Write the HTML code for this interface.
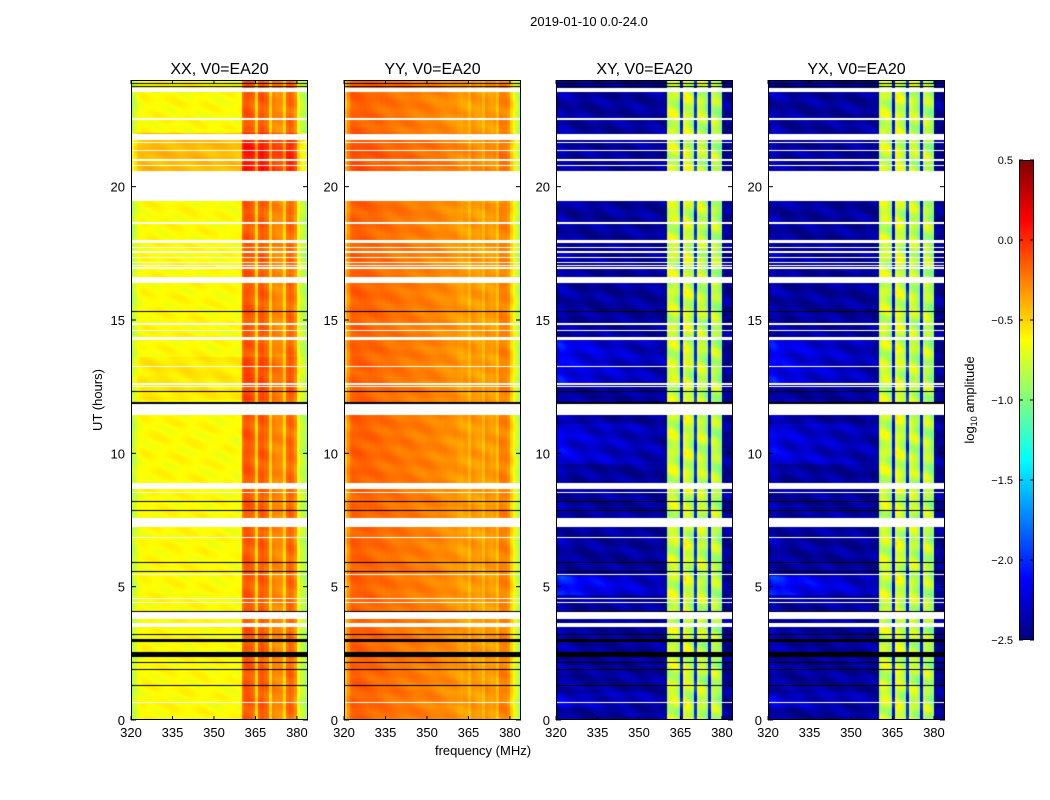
<!DOCTYPE html>
<html><head><meta charset="utf-8"><style>
body{margin:0;background:#fff;}
#wrap{position:relative;width:1050px;height:800px;overflow:hidden;background:#fff;font-family:"Liberation Sans",sans-serif;}
canvas{position:absolute;}
svg{position:absolute;left:0;top:0;}
</style></head><body>
<div id="wrap">
<canvas id="c0" width="177" height="640" style="left:131px;top:80px"></canvas>
<canvas id="c1" width="177" height="640" style="left:344px;top:80px"></canvas>
<canvas id="c2" width="177" height="640" style="left:556px;top:80px"></canvas>
<canvas id="c3" width="177" height="640" style="left:768px;top:80px"></canvas>
<canvas id="cb" width="15" height="480" style="left:1019px;top:160px"></canvas>
<svg id="ov" width="1050" height="800"></svg>
</div>
<script>
// ---- data ----
const panelTitles = ["XX, V0=EA20","YY, V0=EA20","XY, V0=EA20","YX, V0=EA20"];
const xTicks = [320,335,350,365,380];
const yTicks = [0,5,10,15,20];
const cbTicks = [0.5,0.0,-0.5,-1.0,-1.5,-2.0,-2.5];
// per-channel log10 amplitude, channels 320..383 MHz (1 MHz each)
const xxProfile = [-0.85,-0.75,-0.66,-0.64,-0.62,-0.62,-0.62,-0.62,-0.62,-0.62,-0.62,-0.62,-0.62,-0.62,-0.62,-0.62,-0.62,-0.62,-0.62,-0.62,-0.62,-0.62,-0.62,-0.62,-0.62,-0.62,-0.62,-0.62,-0.63,-0.63,-0.63,-0.63,-0.63,-0.63,-0.63,-0.63,-0.63,-0.64,-0.64,-0.64,-0.2,-0.12,-0.12,-0.15,-0.2,-0.5,-0.15,-0.12,-0.18,-0.2,-0.5,-0.25,-0.28,-0.28,-0.3,-0.5,-0.2,-0.15,-0.2,-0.3,-0.68,-0.78,-0.82,-0.88];
const yyProfile = [-0.45,-0.3,-0.18,-0.15,-0.15,-0.15,-0.16,-0.16,-0.17,-0.17,-0.18,-0.18,-0.19,-0.19,-0.2,-0.2,-0.21,-0.21,-0.21,-0.22,-0.22,-0.22,-0.23,-0.23,-0.23,-0.24,-0.24,-0.24,-0.25,-0.25,-0.25,-0.26,-0.26,-0.27,-0.27,-0.28,-0.28,-0.29,-0.3,-0.3,-0.3,-0.33,-0.35,-0.33,-0.33,-0.42,-0.3,-0.33,-0.35,-0.33,-0.42,-0.3,-0.33,-0.35,-0.33,-0.42,-0.25,-0.25,-0.25,-0.3,-0.5,-0.62,-0.75,-0.85];
const xyProfile = [-2.4,-2.35,-2.35,-2.38,-2.4,-2.4,-2.42,-2.42,-2.42,-2.42,-2.42,-2.42,-2.42,-2.42,-2.42,-2.42,-2.42,-2.42,-2.42,-2.42,-2.42,-2.42,-2.42,-2.42,-2.42,-2.42,-2.42,-2.42,-2.42,-2.42,-2.42,-2.42,-2.42,-2.42,-2.42,-2.42,-2.42,-2.42,-2.42,-2.42,-0.85,-0.75,-0.75,-0.8,-0.9,-2.1,-0.7,-0.75,-0.8,-0.9,-2.0,-0.75,-0.8,-0.8,-0.9,-2.1,-0.8,-0.8,-0.85,-0.95,-2.45,-2.45,-2.45,-2.45];
const yxProfile = xyProfile;
// time offsets [startHour, endHour, addedLog10]
const xxOffsets = [[20.5,22.0,0.2],[12.0,13.6,0.06]];
const yyOffsets = [[20.5,22.0,0.05]];
const xyOffsets = [[4.7,5.4,0.35],[9.6,11.1,0.2],[12.6,14.3,0.25],[0.5,1.0,0.15]];
const yxOffsets = xyOffsets;
// flagged (white) time ranges in hours
const flagRanges = [[23.55,23.7],[22.5,22.56],[21.75,21.97],[21.64,21.69],[21.35,21.39],[20.98,21.02],[20.78,20.82],[19.46,20.6],[18.85,18.88],[18.65,18.69],[18.61,18.64],[17.9,18.0],[17.71,17.75],[17.53,17.57],[17.34,17.38],[17.15,17.19],[17.04,17.08],[16.93,16.97],[16.4,16.6],[15.66,15.69],[15.55,15.58],[15.48,15.5],[14.83,14.87],[14.6,14.64],[14.25,14.36],[13.22,13.26],[12.58,12.62],[12.5,12.54],[11.44,11.85],[8.66,8.9],[8.5,8.54],[7.24,7.57],[6.84,6.88],[5.42,5.46],[4.52,4.56],[4.37,4.41],[3.79,4.05],[3.49,3.64],[0.62,0.66]];
// black (zero-valued) time lines in hours
const blackLines = [[23.86,23.9],[23.72,23.76],[22.9,22.93],[22.75,22.78],[21.96,21.99],[20.46,20.49],[19.45,19.48],[16.26,16.29],[15.77,15.8],[15.29,15.32],[13.86,13.89],[13.45,13.48],[12.66,12.69],[12.29,12.32],[11.85,11.93],[11.42,11.45],[8.18,8.23],[7.83,7.86],[6.1,6.13],[5.89,5.92],[5.55,5.6],[4.05,4.08],[3.18,3.21],[2.94,3.02],[2.36,2.55],[2.13,2.16],[1.89,1.92],[1.71,1.74],[1.27,1.3],[0.81,0.84],[0.25,0.28]];

// ---- geometry / scales ----
const panelLeft = [131,344,556,768];
const plotTop = 80, plotH = 640, plotW = 177;
const fMin = 320, fMax = 384, hMin = 0, hMax = 24;
const xScale = (f) => (f - fMin) / (fMax - fMin) * plotW;
const yScale = (h) => plotH - (h - hMin) / (hMax - hMin) * plotH;
const vMin = -2.5, vMax = 0.5;

function jet(v){
  let t = (v - vMin) / (vMax - vMin); t = Math.max(0, Math.min(1, t));
  const c = x => Math.max(0, Math.min(1, x));
  return [c(1.5-Math.abs(4*t-3))*255, c(1.5-Math.abs(4*t-2))*255, c(1.5-Math.abs(4*t-1))*255];
}
function inRanges(h, arr){ for (const r of arr) if (h>=r[0] && h<=r[1]) return true; return false; }
function offsetAt(h, arr){ let o=0; for (const r of arr) if (h>=r[0] && h<=r[1]) o+=r[2]; return o; }

const profiles = [xxProfile, yyProfile, xyProfile, yxProfile];
const offsets = [xxOffsets, yyOffsets, xyOffsets, yxOffsets];
profiles.forEach((prof, p) => {
  const cv = document.getElementById('c'+p);
  const ctx = cv.getContext('2d');
  const img = ctx.createImageData(plotW, plotH);
  for (let py=0; py<plotH; py++){
    const h = hMax - (py+0.5)/plotH*(hMax-hMin);
    const flag = inRanges(h, flagRanges), blk = inRanges(h, blackLines);
    const off = offsetAt(h, offsets[p]);
    for (let px=0; px<plotW; px++){
      const i = (py*plotW+px)*4;
      const f = fMin + (px+0.5)/plotW*(fMax-fMin);
      const ch = Math.min(prof.length-1, Math.floor(f-fMin));
      let rgb;
      if (flag) rgb=[255,255,255];
      else if (blk) rgb=[0,0,0];
      else {
        let v = prof[ch] + ((p>=2 && ch<40) ? off*(1-(f-fMin)/50) : (p<2 ? off : 0));
        // cosmetic texture
        const amp = p>=2 ? (ch<40 ? 0.12 : 0.15) : 0.05;
        v += amp*Math.sin(h*7.3+f*0.37)*Math.cos(h*2.1-f*0.21);
        rgb = jet(v);
      }
      img.data[i]=rgb[0]; img.data[i+1]=rgb[1]; img.data[i+2]=rgb[2]; img.data[i+3]=255;
    }
  }
  ctx.putImageData(img,0,0);
});
// colorbar
(function(){
  const cv=document.getElementById('cb'), ctx=cv.getContext('2d');
  for (let y=0;y<480;y++){ const v=vMax-(y+0.5)/480*(vMax-vMin); const c=jet(v);
    ctx.fillStyle=`rgb(${c[0]|0},${c[1]|0},${c[2]|0})`; ctx.fillRect(0,y,15,1);}
})();

// ---- overlay ----
const NS='http://www.w3.org/2000/svg';
const ov=document.getElementById('ov');
function el(tag, attrs, txt){ const e=document.createElementNS(NS,tag); for(const k in attrs) e.setAttribute(k,attrs[k]); if(txt!==undefined) e.textContent=txt; ov.appendChild(e); return e; }
panelLeft.forEach((L,p)=>{
  const fr=el('rect',{x:L+0.5,y:plotTop+0.5,width:plotW-1,height:plotH-1,fill:'none',stroke:'#000','stroke-width':1});
  
  
  const t=el('text',{x:L+plotW/2,y:74,'text-anchor':'middle','font-size':16},panelTitles[p]);
  
  
  xTicks.forEach(f=>{
    const x=L+xScale(f);
    el('line',{x1:x,y1:plotTop+plotH,x2:x,y2:plotTop+plotH-4,stroke:'#000'});
    el('line',{x1:x,y1:plotTop,x2:x,y2:plotTop+4,stroke:'#000'});
    const tl=el('text',{x:x,y:737,'text-anchor':'middle','font-size':13},String(f));
    
    
  });
  yTicks.forEach(h=>{
    const y=plotTop+yScale(h);
    el('line',{x1:L,y1:y,x2:L+5,y2:y,stroke:'#000'});
    el('line',{x1:L+plotW,y1:y,x2:L+plotW-5,y2:y,stroke:'#000'});
    const tl=el('text',{x:L-6,y:y+5,'text-anchor':'end','font-size':13},String(h));
    
    
  });
});
const st=el('text',{x:589,y:26,'text-anchor':'middle','font-size':13},'2019-01-10 0.0-24.0');


const xl=el('text',{x:483,y:755,'text-anchor':'middle','font-size':13},'frequency (MHz)');


const yl=el('text',{x:0,y:0,'text-anchor':'middle','font-size':13,transform:'translate(102,400) rotate(-90)'},'UT (hours)');


const cbf=el('rect',{x:1019.5,y:160.5,width:14,height:479,fill:'none',stroke:'#000'});


cbTicks.forEach(v=>{
  const y=160+(vMax-v)/(vMax-vMin)*480;
  el('line',{x1:1019,y1:y,x2:1023,y2:y,stroke:'#000'});
  el('line',{x1:1034,y1:y,x2:1030,y2:y,stroke:'#000'});
  const tl=el('text',{x:1013,y:y+4,'text-anchor':'end','font-size':11},(v<0?'\u2212':'')+Math.abs(v).toFixed(1));
  
  
});
const cl=el('text',{x:0,y:0,'text-anchor':'middle','font-size':13,transform:'translate(974,400) rotate(-90)'});


cl.innerHTML='log<tspan font-size="9" dy="3">10</tspan><tspan dy="-3"> amplitude</tspan>';
</script>
</body></html>
